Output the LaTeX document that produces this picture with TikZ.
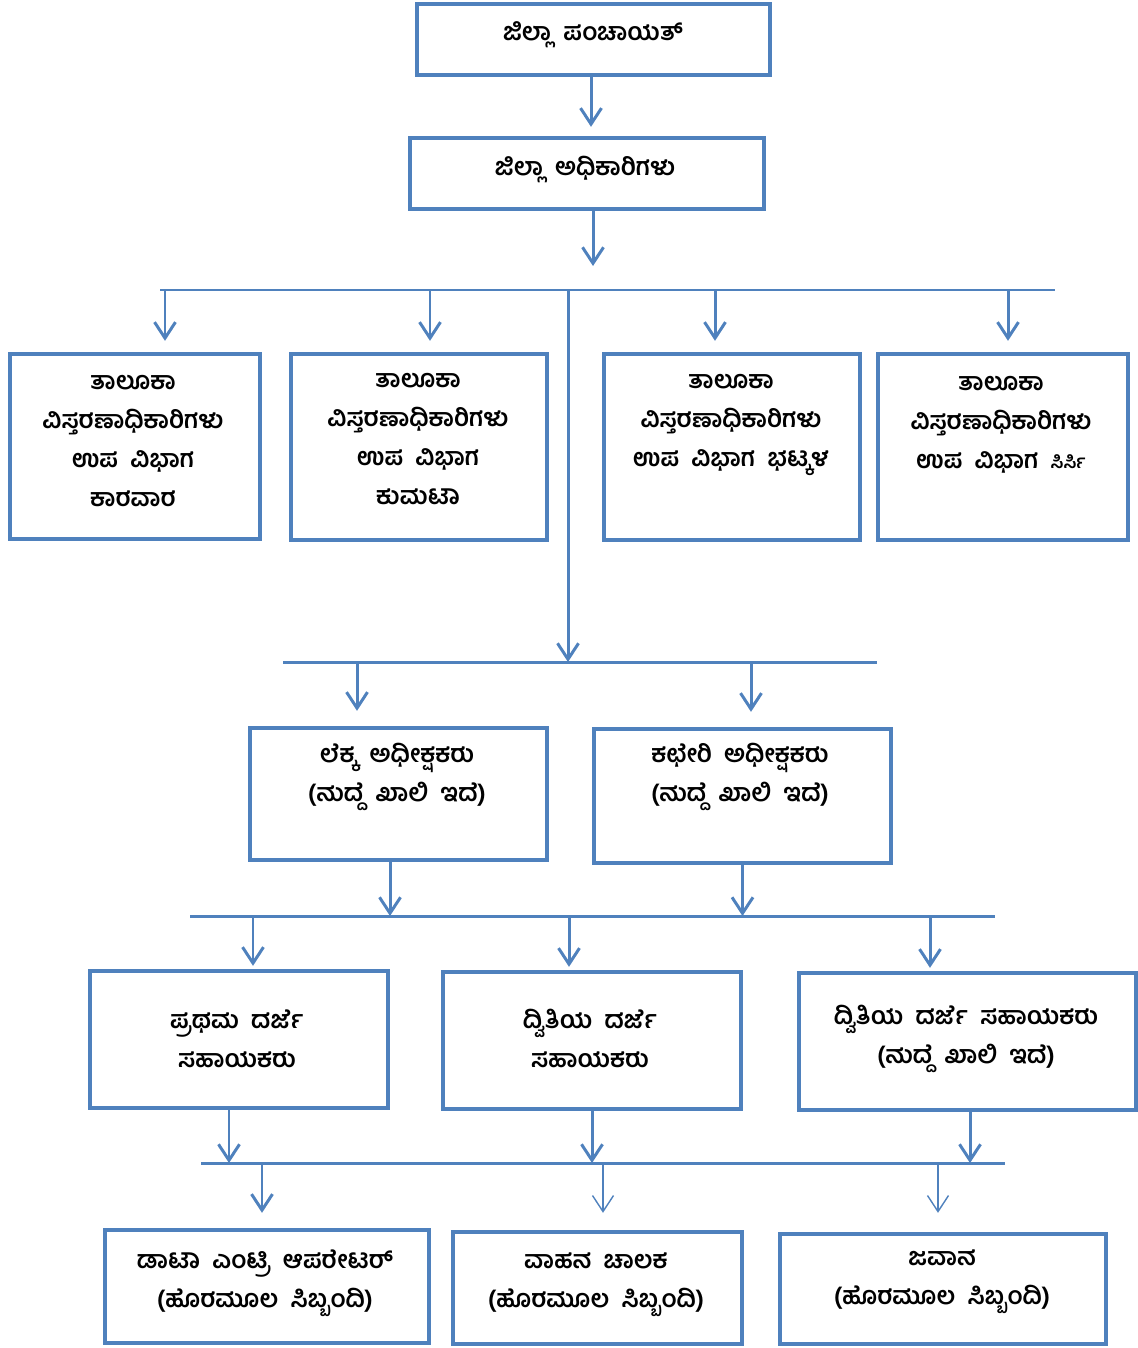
\documentclass[tikz,border=0pt]{standalone}
\usepackage{fontspec}
\newfontfamily\kannada[Script=Kannada,WordSpace=2]{Hind Mysuru}
\usepackage{tikz}
\usetikzlibrary{arrows.meta}
\definecolor{blue1}{HTML}{4F81BD}

\begin{document}
\begin{tikzpicture}[x=0.02cm,y=-0.02cm,
  pbox/.style={draw=blue1,line width=2.5pt,inner sep=0pt},
  ktext/.style={align=center,inner sep=0pt,font=\kannada\bfseries\fontsize{14}{22.3}\selectfont},
  bus/.style={draw=blue1,line width=1.7pt},
  conn/.style={draw=blue1,line width=1.7pt,-{Straight Barb[length=0.32cm,width=0.42cm]}},
  thinconn/.style={draw=blue1,line width=0.8pt,-{Straight Barb[length=0.32cm,width=0.42cm]}}]
\useasboundingbox (0,0) rectangle (1138,1348);
% top of the chart
\node[pbox,minimum width=7.06cm,minimum height=1.42cm] (pan) at (593.5,39.5) {};
\node[ktext] (panT) at (593,35) {ಜಿಲ್ಲಾ ಪಂಚಾಯತ್};
\node[pbox,minimum width=7.08cm,minimum height=1.42cm] (off) at (587,173.5) {};
\node[ktext] (offT) at (585,169) {ಜಿಲ್ಲಾ ಅಧಿಕಾರಿಗಳು};
\draw[conn,shorten >=0.18cm] ([xshift=-0.05cm]pan.south) -- ([xshift=-0.05cm]pan.south |- off.north);
\coordinate (b1l) at (160,290);
\coordinate (b1r) at (1055,290);
\draw[bus] (b1l) -- (b1r);
\draw[conn,shorten >=0.48cm] ([xshift=0.12cm]off.south) -- ([xshift=0.12cm]off.south |- b1l);
% taluka boxes
\node[pbox,minimum width=5.0cm,minimum height=3.7cm] (karw) at (135,446.5) {};
\node[ktext] (karwT) at (133,441) {ತಾಲೂಕಾ\\ವಿಸ್ತರಣಾಧಿಕಾರಿಗಳು\\ಉಪ ವಿಭಾಗ\\ಕಾರವಾರ};
\node[pbox,minimum width=5.12cm,minimum height=3.72cm] (kumt) at (419,447) {};
\node[ktext] (kumtT) at (418,439) {ತಾಲೂಕಾ\\ವಿಸ್ತರಣಾಧಿಕಾರಿಗಳು\\ಉಪ ವಿಭಾಗ\\ಕುಮಟಾ};
\node[pbox,minimum width=5.12cm,minimum height=3.72cm] (bhat) at (732,447) {};
\node[ktext] (bhatT) at (731,425) {ತಾಲೂಕಾ\\ವಿಸ್ತರಣಾಧಿಕಾರಿಗಳು\\ಉಪ ವಿಭಾಗ ಭಟ್ಕಳ};
\node[pbox,minimum width=5.0cm,minimum height=3.72cm] (sirs) at (1003,447) {};
\node[ktext] (sirsT) at (1001,425) {ತಾಲೂಕಾ\\ವಿಸ್ತರಣಾಧಿಕಾರಿಗಳು\\ಉಪ ವಿಭಾಗ {\fontsize{10.5}{22.3}\selectfont ಸಿರ್ಸಿ}};
\draw[conn,shorten >=0.22cm] ([xshift=0.6cm]karw.north |- b1l) -- ([xshift=0.6cm]karw.north);
\draw[conn,shorten >=0.22cm] ([xshift=0.22cm]kumt.north |- b1l) -- ([xshift=0.22cm]kumt.north);
\draw[conn,shorten >=0.22cm] ([xshift=-0.34cm]bhat.north |- b1l) -- ([xshift=-0.34cm]bhat.north);
\draw[conn,shorten >=0.22cm] ([xshift=0.1cm]sirs.north |- b1l) -- ([xshift=0.1cm]sirs.north);
% superintendents
\coordinate (trunk) at (568,290);
\coordinate (b2l) at (283,662);
\coordinate (b2r) at (877,662);
\draw[bus] (b2l) -- (b2r);
\draw[conn] (trunk) -- (trunk |- b2l);
\node[pbox,minimum width=5.94cm,minimum height=2.64cm] (lek) at (398.5,794) {};
\node[ktext] (lekT) at (397,777) {ಲೆಕ್ಕ ಅಧೀಕ್ಷಕರು\\(ಹುದ್ದೆ ಖಾಲಿ ಇದೆ)};
\node[pbox,minimum width=5.94cm,minimum height=2.68cm] (kac) at (742.5,796) {};
\node[ktext] (kacT) at (740,777) {ಕಛೇರಿ ಅಧೀಕ್ಷಕರು\\(ಹುದ್ದೆ ಖಾಲಿ ಇದೆ)};
\draw[conn,shorten >=0.3cm] ([xshift=-0.83cm]lek.north |- b2l) -- ([xshift=-0.83cm]lek.north);
\draw[conn,shorten >=0.3cm] ([xshift=0.17cm]kac.north |- b2l) -- ([xshift=0.17cm]kac.north);
% assistants
\coordinate (b3l) at (190,916);
\coordinate (b3r) at (995,916);
\draw[bus] (b3l) -- (b3r);
\draw[conn] ([xshift=-0.17cm]lek.south) -- ([xshift=-0.17cm]lek.south |- b3l);
\draw[conn] (kac.south) -- (kac.south |- b3l);
\node[pbox,minimum width=5.96cm,minimum height=2.74cm] (pra) at (239,1039.5) {};
\node[ktext] (praT) at (237,1038.5) {ಪ್ರಥಮ ದರ್ಜೆ\\ಸಹಾಯಕರು};
\node[pbox,minimum width=5.96cm,minimum height=2.74cm] (dvi) at (592,1040.5) {};
\node[ktext] (dviT) at (590,1038.5) {ದ್ವಿತಿಯ ದರ್ಜೆ\\ಸಹಾಯಕರು};
\node[pbox,minimum width=6.74cm,minimum height=2.74cm] (dvk) at (967.5,1041.5) {};
\node[ktext] (dvkT) at (966,1039) {ದ್ವಿತಿಯ ದರ್ಜೆ ಸಹಾಯಕರು\\(ಹುದ್ದೆ ಖಾಲಿ ಇದೆ)};
\draw[conn,shorten >=0.06cm] ([xshift=0.28cm]pra.north |- b3l) -- ([xshift=0.28cm]pra.north);
\draw[conn,shorten >=0.06cm] ([xshift=-0.46cm]dvi.north |- b3l) -- ([xshift=-0.46cm]dvi.north);
\draw[conn,shorten >=0.06cm] ([xshift=-0.75cm]dvk.north |- b3l) -- ([xshift=-0.75cm]dvk.north);
% outsourced staff
\coordinate (b4l) at (201,1163);
\coordinate (b4r) at (1005,1163);
\draw[bus] (b4l) -- (b4r);
\draw[conn] ([xshift=-0.2cm]pra.south) -- ([xshift=-0.2cm]pra.south |- b4l);
\draw[conn] (dvi.south) -- (dvi.south |- b4l);
\draw[conn] ([xshift=0.05cm]dvk.south) -- ([xshift=0.05cm]dvk.south |- b4l);
\node[pbox,minimum width=6.48cm,minimum height=2.26cm] (dat) at (267,1286.5) {};
\node[ktext] (datT) at (265,1283) {ಡಾಟಾ ಎಂಟ್ರಿ ಆಪರೇಟರ್\\(ಹೊರಮೂಲ ಸಿಬ್ಬಂದಿ)};
\node[pbox,minimum width=5.78cm,minimum height=2.24cm] (vah) at (597.5,1288) {};
\node[ktext] (vahT) at (596,1284.5) {ವಾಹನ ಚಾಲಕ\\(ಹೊರಮೂಲ ಸಿಬ್ಬಂದಿ)};
\node[pbox,minimum width=6.52cm,minimum height=2.2cm] (jav) at (943,1289) {};
\node[ktext] (javT) at (942,1281.5) {ಜವಾನ\\(ಹೊರಮೂಲ ಸಿಬ್ಬಂದಿ)};
\draw[conn,shorten >=0.3cm] ([xshift=-0.1cm]dat.north |- b4l) -- ([xshift=-0.1cm]dat.north);
\draw[thinconn,shorten >=0.34cm] ([xshift=0.11cm]vah.north |- b4l) -- ([xshift=0.11cm]vah.north);
\draw[thinconn,shorten >=0.38cm] ([xshift=-0.1cm]jav.north |- b4l) -- ([xshift=-0.1cm]jav.north);
\end{tikzpicture}
\end{document}
